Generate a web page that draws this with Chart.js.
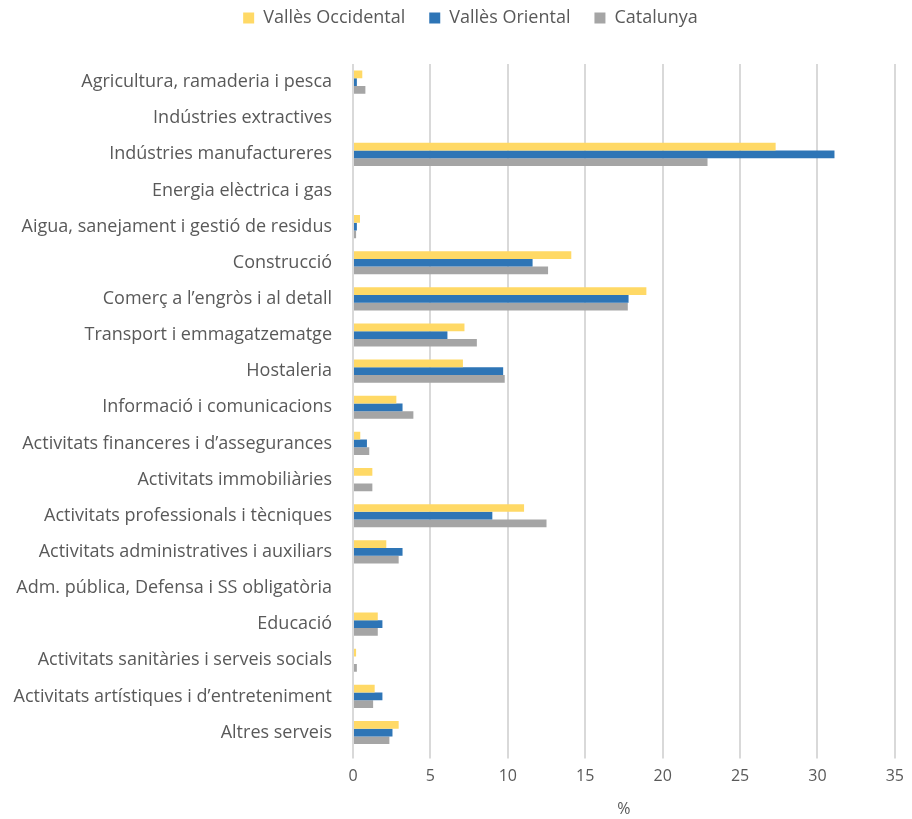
<!DOCTYPE html>
<html>
<head>
<meta charset="utf-8">
<script src="https://cdn.jsdelivr.net/npm/chart.js@4.4.1/dist/chart.umd.min.js"></script>
<style>
  html, body { margin: 0; padding: 0; background: #fff; }
  #wrap { width: 912px; height: 819px; position: relative; }
</style>
</head>
<body>
<div id="wrap"><canvas id="myChart"></canvas></div>
<script>
const sectors = [
    'Agricultura, ramaderia i pesca',
    'Indústries extractives',
    'Indústries manufactureres',
    'Energia elèctrica i gas',
    'Aigua, sanejament i gestió de residus',
    'Construcció',
    'Comerç a l’engròs i al detall',
    'Transport i emmagatzematge',
    'Hostaleria',
    'Informació i comunicacions',
    'Activitats financeres i d’assegurances',
    'Activitats immobiliàries',
    'Activitats professionals i tècniques',
    'Activitats administratives i auxiliars',
    'Adm. pública, Defensa i SS obligatòria',
    'Educació',
    'Activitats sanitàries i serveis socials',
    'Activitats artístiques i d’entreteniment',
    'Altres serveis'
];

const vallesOccidental = [0.6, 0, 27.3, 0, 0.45, 14.1, 18.95, 7.2, 7.1, 2.8, 0.47, 1.25, 11.05, 2.15, 0, 1.6, 0.2, 1.4, 2.95];
const vallesOriental   = [0.25, 0, 31.1, 0, 0.25, 11.6, 17.8, 6.1, 9.7, 3.2, 0.9, 0, 9.0, 3.2, 0, 1.9, 0, 1.9, 2.55];
const catalunya        = [0.8, 0, 22.9, 0, 0.2, 12.6, 17.75, 8.0, 9.8, 3.9, 1.05, 1.25, 12.5, 2.95, 0, 1.6, 0.25, 1.3, 2.35];

const xTicks = [0, 5, 10, 15, 20, 25, 30, 35];

const fontFamily = '"Open Sans", Lato, sans-serif';
const textColor = '#595959';

// espacio extra debajo de la leyenda y leyenda desplazada a la derecha
const legendMargin = {
    id: 'legendMargin',
    beforeInit(chart) {
        const fit = chart.legend.fit;
        chart.legend.fit = function () {
            fit.bind(chart.legend)();
            this.height += 27;
        };
    },
    afterLayout(chart) {
        chart.legend.left += 22;
        chart.legend.right += 22;
    }
};

const ctx = document.getElementById('myChart');
new Chart(ctx, {
    type: 'bar',
    data: {
        labels: sectors,
        datasets: [
            {
                label: 'Vallès Occidental',
                data: vallesOccidental,
                backgroundColor: '#FFD966',
                borderWidth: 0
            },
            {
                label: 'Vallès Oriental',
                data: vallesOriental,
                backgroundColor: '#2E75B6',
                borderWidth: 0
            },
            {
                label: 'Catalunya',
                data: catalunya,
                backgroundColor: '#A5A5A5',
                borderWidth: 0
            }
        ]
    },
    options: {
        indexAxis: 'y',
        responsive: true,
        maintainAspectRatio: false,
        animation: false,
        categoryPercentage: 0.64,
        barPercentage: 1.0,
        layout: {
            padding: { top: -15, right: 15, bottom: 0, left: 0 }
        },
        plugins: {
            legend: {
                position: 'top',
                labels: {
                    color: textColor,
                    font: { family: fontFamily, size: 18 },
                    boxWidth: 11,
                    boxHeight: 11,
                    padding: 24
                }
            },
            tooltip: { enabled: false }
        },
        scales: {
            x: {
                min: 0,
                max: 35,
                afterBuildTicks: function (scale) {
                    scale.ticks = xTicks.map(v => ({ value: v }));
                },
                grid: {
                    color: '#D9D9D9',
                    lineWidth: 2,
                    drawTicks: true,
                    tickLength: 8
                },
                border: { display: false },
                ticks: {
                    color: textColor,
                    font: { family: fontFamily, size: 16 },
                    padding: 8
                },
                title: {
                    display: true,
                    text: '%',
                    color: textColor,
                    font: { family: fontFamily, size: 16 },
                    padding: { top: 6, bottom: 0 }
                }
            },
            y: {
                afterFit: function (scale) {
                    scale.width = 353;
                },
                grid: { display: false },
                border: { display: false },
                ticks: {
                    color: textColor,
                    font: { family: fontFamily, size: 18 },
                    padding: 13,
                    autoSkip: false
                }
            }
        }
    },
    plugins: [legendMargin]
});
</script>
</body>
</html>
